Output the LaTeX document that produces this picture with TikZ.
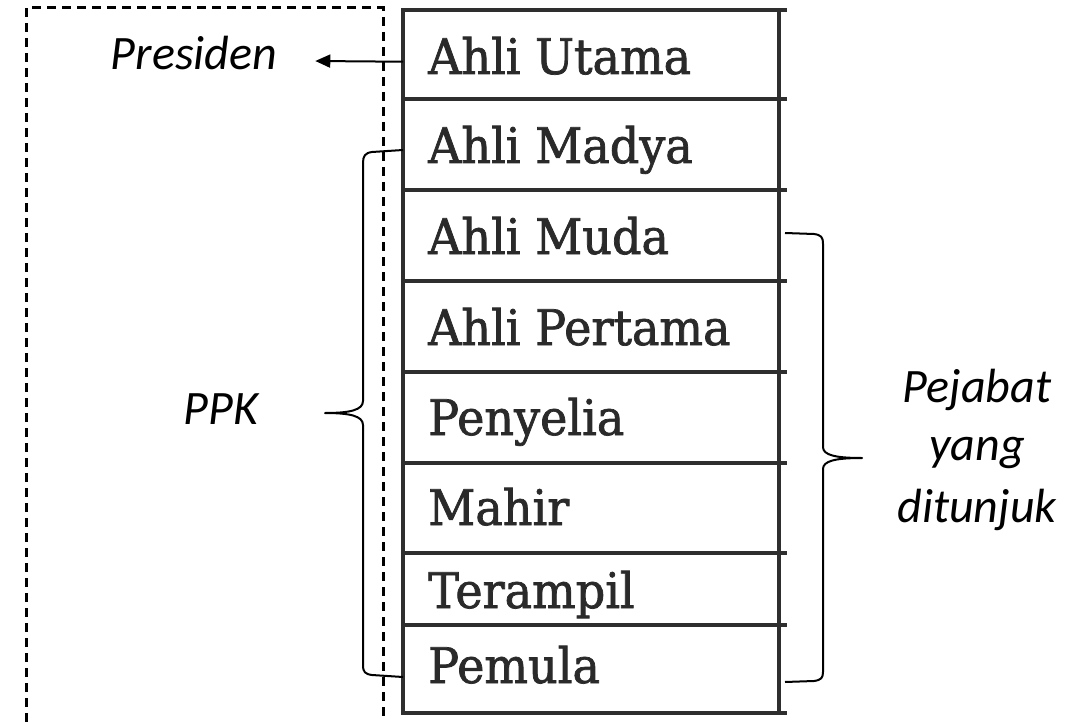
\documentclass[tikz,border=0pt]{standalone}
\usepackage{fontspec}
\newfontfamily\cellfont[FakeStretch=0.94,FakeBold=1.5]{DejaVu Serif}
\newfontfamily\labfont{Carlito}
\usetikzlibrary{arrows.meta,calc}
\definecolor{gridgray}{HTML}{2E2E2E}
\definecolor{inkgray}{HTML}{2A2A2A}

\begin{document}
\begin{tikzpicture}[x=1pt,y=-1pt,
  celltext/.style={anchor=base west, inner sep=0pt, text=inkgray,
    font=\cellfont\fontsize{49}{58}\selectfont},
  lab/.style={anchor=base, inner sep=0pt,
    font=\labfont\itshape\fontsize{48}{58}\selectfont},
  gridline/.style={draw=gridgray, line width=3.5pt},
  frame/.style={draw=black, line width=3pt, dash pattern=on 9pt off 6pt},
  bracket/.style={draw=black, line width=2pt, line join=round},
  pointer/.style={draw=black, line width=2pt, -{Triangle[length=15pt,width=13pt]}}]

\useasboundingbox (0,0) rectangle (1086,722);

% dashed frame, open at the bottom
\draw[frame] (26,722) -- (26,8) -- (383,8) -- (383,722);

% table grid
\foreach \y in {10,99,190,281,372,463,553,625,713}
  \draw[gridline] (401,\y) -- (787,\y);
\draw[gridline] (403,10) -- (403,713);
\draw[gridline] (779,10) -- (779,713);

% rank names
\node[celltext] (r1) at (428,74)  {Ahli Utama};
\node[celltext] (r2) at (428,163) {Ahli Madya};
\node[celltext] (r3) at (428,254) {Ahli Muda};
\node[celltext] (r4) at (428,345) {Ahli Pertama};
\node[celltext] (r5) at (428,435) {Penyelia};
\node[celltext] (r6) at (428,525) {Mahir};
\node[celltext] (r7) at (428,608) {Terampil};
\node[celltext] (r8) at (428,683) {Pemula};

% labels
\node[lab] (pres) at (194,70)  {Presiden};
\node[lab] (ppk)  at (221,424) {PPK};
\node[lab] (pj1)  at (977,402) {Pejabat};
\node[lab] (pj2)  at (977,460) {yang};
\node[lab] (pj3)  at (977,522) {ditunjuk};

% anchor points on the table edges
\coordinate (utamaL) at (r1.west -| 403,0);
\coordinate (ppkTop) at (403,150);
\coordinate (ppkBot) at (403,677);
\coordinate (ppkTip) at (325,413);
\coordinate (pjTop)  at (785,233);
\coordinate (pjBot)  at (785,682);
\coordinate (pjTip)  at (862,458);

% arrow to Presiden
\draw[pointer] ($(utamaL)+(0,6)$) -- ($(pres.base east)+(38,-9)$);

% brace for PPK
\draw[bracket] (ppkTop) -- (372,152) .. controls (365,153) and (363,156) .. (363,163)
  -- (363,401) .. controls (363,410) and (350,413) .. (ppkTip)
  .. controls (350,413) and (363,416) .. (363,425)
  -- (363,665) .. controls (363,672) and (365,674) .. (372,675) -- (ppkBot);

% brace for Pejabat yang ditunjuk
\draw[bracket] (pjTop) -- (814,234) .. controls (821,235) and (823,237) .. (823,244)
  -- (823,447) .. controls (823,455) and (835,458) .. (pjTip)
  .. controls (835,458) and (823,461) .. (823,469)
  -- (823,672) .. controls (823,678) and (821,680) .. (814,681) -- (pjBot);
\end{tikzpicture}
\end{document}
